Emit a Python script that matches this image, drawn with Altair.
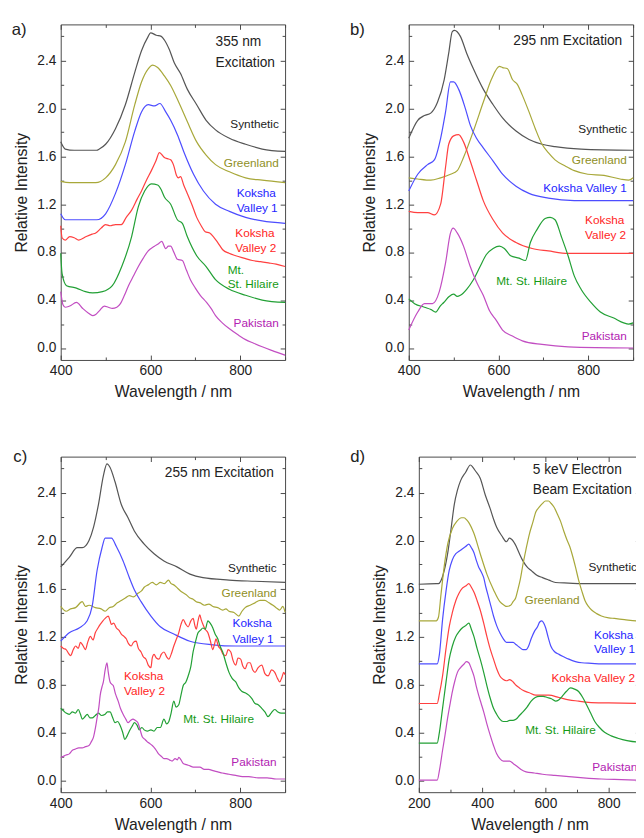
import altair as alt
import pandas as pd

FONT = "Liberation Sans"
SERIES = ["Synthetic", "Greenland", "Koksha Valley 1", "Koksha Valley 2", "Mt. St. Hilaire", "Pakistan"]
LINE_COLORS = ["#555555", "#a8a83a", "#4d4dff", "#ff4040", "#22a035", "#c24ec2"]
TEXT_COLORS = ["#222222", "#8f8f1f", "#2424ff", "#ff2424", "#159a15", "#b222b2"]

Y_MAJOR = [0.0, 0.4, 0.8, 1.2, 1.6, 2.0, 2.4]
Y_MINOR = [-0.2, 0.2, 0.6, 1.0, 1.4, 1.8, 2.2, 2.6]

# ---------------- panel a : 355 nm excitation ----------------
a_synthetic = [(400,1.72),(410,1.66),(430,1.65),(480,1.65),(486,1.66),(500,1.70),(522,1.83),(544,2.03),(565,2.30),(580,2.48),(595,2.60),(600,2.63),(613,2.61),(624,2.60),(631,2.57),(642,2.49),(653,2.38),(667,2.29),(682,2.16),(703,2.03),(724,1.90),(745,1.82),(776,1.75),(812,1.70),(849,1.66),(900,1.64)]
a_greenland = [(400,1.39),(420,1.38),(450,1.38),(478,1.38),(500,1.42),(522,1.53),(544,1.72),(565,2.03),(580,2.22),(595,2.33),(605,2.36),(616,2.34),(631,2.27),(645,2.19),(663,2.05),(682,1.89),(703,1.72),(724,1.61),(745,1.53),(776,1.47),(812,1.42),(849,1.40),(900,1.38)]
a_koksha1 = [(400,1.12),(410,1.07),(450,1.07),(480,1.07),(500,1.12),(522,1.29),(544,1.53),(565,1.81),(580,1.97),(595,2.03),(609,2.02),(621,2.04),(634,1.97),(645,1.90),(660,1.78),(674,1.64),(696,1.45),(718,1.31),(745,1.20),(776,1.14),(812,1.09),(849,1.06),(900,1.04)]
a_koksha2 = [(400,1.02),(403,0.92),(410,0.90),(420,0.93),(430,0.92),(440,0.90),(457,0.93),(470,0.95),(478,0.96),(490,1.00),(500,1.03),(510,1.02),(522,1.03),(535,1.03),(546,1.09),(558,1.15),(570,1.24),(580,1.31),(591,1.40),(602,1.48),(612,1.56),(620,1.63),(626,1.61),(631,1.59),(638,1.58),(645,1.57),(652,1.52),(658,1.44),(662,1.42),(667,1.43),(674,1.36),(682,1.29),(692,1.20),(703,1.09),(713,1.02),(722,0.97),(732,0.96),(740,0.93),(750,0.88),(761,0.82),(775,0.79),(790,0.77),(808,0.75),(827,0.73),(845,0.72),(863,0.71),(880,0.70),(900,0.68)]
a_hilaire = [(400,0.79),(403,0.62),(413,0.52),(435,0.50),(455,0.47),(471,0.46),(493,0.47),(515,0.52),(536,0.68),(558,0.93),(573,1.18),(587,1.31),(602,1.37),(616,1.36),(624,1.32),(631,1.26),(645,1.20),(660,1.07),(671,1.04),(682,0.93),(703,0.77),(724,0.68),(745,0.57),(776,0.49),(812,0.44),(849,0.40),(900,0.38)]
a_pakistan = [(400,0.47),(405,0.36),(410,0.34),(420,0.35),(435,0.38),(449,0.33),(462,0.29),(471,0.27),(478,0.28),(486,0.31),(497,0.35),(506,0.34),(515,0.33),(525,0.34),(533,0.37),(542,0.44),(551,0.52),(562,0.60),(573,0.68),(584,0.75),(595,0.81),(609,0.85),(618,0.87),(625,0.89),(634,0.83),(640,0.85),(645,0.85),(652,0.80),(660,0.74),(671,0.73),(680,0.65),(689,0.57),(700,0.50),(711,0.44),(725,0.38),(735,0.33),(745,0.27),(760,0.21),(776,0.16),(795,0.11),(812,0.07),(830,0.04),(849,0.01),(870,-0.02),(900,-0.06)]

# ---------------- panel b : 295 nm excitation ----------------
b_synthetic = [(400,1.75),(420,1.90),(435,1.94),(449,1.96),(464,2.05),(479,2.24),(489,2.46),(497,2.64),(502,2.65),(515,2.60),(529,2.46),(544,2.33),(566,2.16),(588,2.03),(609,1.92),(639,1.81),(668,1.74),(697,1.70),(726,1.68),(784,1.66),(900,1.65)]
b_greenland = [(400,1.42),(420,1.41),(449,1.40),(471,1.42),(493,1.45),(508,1.48),(522,1.59),(544,1.81),(566,2.05),(584,2.24),(602,2.35),(609,2.34),(620,2.33),(631,2.24),(642,2.20),(653,2.11),(668,1.97),(682,1.83),(697,1.70),(711,1.63),(726,1.57),(748,1.52),(769,1.48),(799,1.45),(835,1.44),(871,1.41),(890,1.40),(900,1.42)]
b_koksha1 = [(400,1.31),(420,1.45),(442,1.53),(457,1.57),(471,1.75),(482,1.97),(493,2.22),(500,2.22),(511,2.16),(526,2.00),(537,1.86),(551,1.75),(566,1.67),(588,1.56),(609,1.45),(639,1.35),(668,1.29),(711,1.25),(769,1.23),(900,1.23)]
b_koksha2 = [(400,1.14),(420,1.13),(442,1.13),(457,1.11),(471,1.20),(482,1.51),(489,1.70),(500,1.77),(511,1.78),(522,1.72),(537,1.56),(551,1.40),(566,1.23),(588,1.07),(609,0.96),(639,0.88),(675,0.83),(711,0.81),(755,0.79),(900,0.79)]
b_hilaire = [(400,0.41),(413,0.37),(435,0.34),(450,0.32),(460,0.30),(470,0.35),(478,0.38),(490,0.43),(500,0.45),(508,0.43),(515,0.44),(529,0.49),(544,0.57),(559,0.68),(573,0.78),(588,0.83),(602,0.85),(613,0.83),(627,0.77),(646,0.75),(660,0.73),(671,0.88),(686,0.99),(704,1.08),(715,1.09),(726,1.07),(740,0.93),(755,0.77),(769,0.60),(784,0.49),(806,0.38),(827,0.30),(857,0.25),(879,0.21),(890,0.20),(900,0.21)]
b_pakistan = [(400,0.15),(420,0.30),(435,0.37),(453,0.37),(468,0.47),(482,0.71),(493,0.96),(499,1.00),(508,0.96),(522,0.85),(537,0.68),(551,0.55),(566,0.44),(580,0.31),(595,0.23),(609,0.15),(631,0.10),(653,0.06),(697,0.03),(755,0.01),(900,0.0)]

# ---------------- panel c : 255 nm excitation ----------------
c_synthetic = [(400,1.78),(419,1.86),(437,1.94),(448,1.94),(463,2.00),(473,2.11),(484,2.30),(495,2.54),(503,2.64),(510,2.61),(521,2.49),(535,2.30),(550,2.19),(564,2.08),(586,1.97),(608,1.89),(630,1.83),(659,1.78),(688,1.72),(717,1.69),(775,1.67),(833,1.66),(900,1.65)]
c_greenland = [(400,1.45),(412,1.41),(422,1.43),(433,1.44),(448,1.49),(455,1.45),(463,1.46),(477,1.44),(490,1.43),(499,1.41),(508,1.44),(517,1.45),(526,1.48),(535,1.50),(544,1.52),(553,1.54),(562,1.53),(572,1.56),(580,1.58),(586,1.61),(595,1.63),(604,1.65),(613,1.63),(622,1.65),(631,1.64),(640,1.67),(646,1.64),(652,1.63),(661,1.60),(670,1.57),(679,1.55),(688,1.52),(695,1.51),(702,1.49),(711,1.48),(720,1.46),(730,1.47),(739,1.45),(750,1.44),(761,1.42),(768,1.43),(775,1.41),(786,1.40),(797,1.37),(804,1.41),(811,1.44),(822,1.46),(833,1.48),(844,1.50),(855,1.50),(864,1.48),(873,1.46),(880,1.44),(888,1.42),(895,1.45),(900,1.40)]
c_koksha1 = [(400,1.16),(419,1.23),(441,1.27),(459,1.33),(470,1.45),(481,1.75),(492,1.94),(499,2.02),(513,2.02),(524,1.95),(539,1.83),(553,1.69),(564,1.59),(579,1.49),(601,1.37),(622,1.28),(652,1.22),(688,1.16),(739,1.13),(790,1.12),(900,1.12)]
c_koksha2 = [(400,1.12),(406,1.10),(412,1.09),(417,1.06),(422,1.04),(428,1.09),(433,1.12),(439,1.10),(444,1.15),(450,1.12),(455,1.09),(460,1.15),(466,1.20),(472,1.17),(477,1.23),(483,1.27),(488,1.30),(494,1.33),(499,1.35),(506,1.37),(510,1.33),(513,1.30),(518,1.31),(524,1.27),(530,1.25),(535,1.22),(541,1.20),(546,1.18),(551,1.14),(557,1.12),(562,1.15),(568,1.16),(573,1.10),(579,1.07),(584,1.03),(590,1.01),(595,0.96),(601,0.94),(604,1.02),(608,1.05),(613,1.02),(619,1.01),(624,1.05),(630,1.07),(636,1.03),(641,1.01),(646,1.05),(652,1.12),(657,1.17),(663,1.23),(668,1.30),(673,1.34),(679,1.30),(684,1.28),(690,1.33),(695,1.35),(699,1.29),(702,1.26),(706,1.33),(710,1.38),(713,1.34),(717,1.30),(722,1.26),(728,1.23),(733,1.17),(739,1.09),(743,1.14),(746,1.18),(751,1.12),(757,1.09),(762,1.05),(768,1.04),(773,1.09),(779,1.07),(784,1.00),(790,0.96),(795,1.02),(801,1.01),(806,0.95),(811,0.93),(817,0.98),(822,0.98),(828,0.92),(833,0.90),(840,0.94),(848,0.96),(855,0.89),(862,0.87),(870,0.92),(877,0.90),(883,0.85),(888,0.82),(893,0.86),(897,0.90),(900,0.88)]
c_hilaire = [(400,0.60),(406,0.58),(412,0.56),(419,0.55),(426,0.57),(433,0.56),(439,0.59),(444,0.55),(448,0.51),(454,0.53),(459,0.55),(465,0.52),(470,0.52),(477,0.54),(484,0.56),(491,0.54),(499,0.55),(504,0.57),(510,0.57),(515,0.53),(521,0.48),(527,0.49),(532,0.46),(538,0.40),(543,0.34),(548,0.37),(553,0.41),(559,0.45),(564,0.48),(570,0.46),(575,0.42),(581,0.44),(586,0.42),(593,0.41),(601,0.42),(608,0.41),(615,0.44),(622,0.44),(630,0.51),(636,0.47),(641,0.49),(646,0.56),(652,0.66),(657,0.61),(663,0.63),(668,0.71),(673,0.79),(679,0.82),(684,0.87),(690,0.95),(695,1.07),(700,1.15),(706,1.23),(711,1.25),(717,1.27),(722,1.26),(728,1.33),(733,1.31),(739,1.27),(744,1.22),(750,1.18),(755,1.12),(761,1.07),(768,0.98),(775,0.90),(782,0.85),(790,0.82),(797,0.77),(804,0.74),(811,0.73),(819,0.71),(826,0.68),(833,0.64),(840,0.63),(848,0.60),(855,0.57),(862,0.53),(869,0.56),(877,0.59),(884,0.57),(891,0.56),(900,0.56)]
c_pakistan = [(400,0.19),(406,0.20),(412,0.21),(419,0.22),(426,0.25),(433,0.26),(440,0.27),(448,0.27),(455,0.28),(463,0.29),(468,0.32),(473,0.36),(477,0.43),(481,0.52),(485,0.61),(488,0.71),(492,0.78),(495,0.82),(499,0.92),(503,0.98),(506,0.90),(510,0.82),(514,0.80),(517,0.79),(522,0.72),(528,0.66),(533,0.60),(539,0.55),(545,0.51),(550,0.48),(556,0.50),(561,0.51),(566,0.50),(572,0.48),(577,0.42),(582,0.36),(588,0.34),(593,0.32),(597,0.31),(604,0.29),(611,0.26),(618,0.22),(624,0.20),(630,0.18),(636,0.18),(642,0.17),(648,0.16),(655,0.18),(660,0.17),(663,0.19),(668,0.17),(673,0.14),(680,0.13),(688,0.12),(695,0.11),(703,0.11),(710,0.11),(720,0.09),(730,0.09),(739,0.08),(750,0.07),(760,0.06),(775,0.05),(790,0.04),(805,0.03),(819,0.03),(840,0.02),(860,0.02),(880,0.01),(900,0.01)]

# ---------------- panel d : 5 keV electron beam ----------------
d_synthetic = [(200,1.635),(255,1.64),(262,1.64),(275,1.70),(291,1.89),(302,2.10),(312,2.30),(322,2.42),(332,2.50),(348,2.57),(363,2.63),(371,2.61),(379,2.58),(394,2.52),(410,2.38),(425,2.27),(436,2.18),(446,2.11),(462,2.04),(477,1.99),(486,2.02),(493,2.01),(508,1.95),(518,1.89),(529,1.83),(542,1.78),(555,1.75),(573,1.71),(591,1.69),(611,1.67),(632,1.65),(673,1.645),(715,1.64),(800,1.64),(900,1.64)]
d_greenland = [(200,1.33),(255,1.33),(262,1.36),(270,1.55),(280,1.78),(292,1.98),(306,2.10),(320,2.16),(335,2.19),(343,2.19),(352,2.17),(358,2.15),(374,2.06),(394,1.89),(415,1.72),(436,1.59),(456,1.49),(470,1.46),(477,1.45),(490,1.46),(498,1.49),(506,1.52),(513,1.59),(521,1.68),(529,1.80),(539,1.93),(549,2.05),(560,2.15),(570,2.24),(581,2.28),(591,2.31),(600,2.33),(610,2.33),(618,2.31),(627,2.28),(638,2.22),(648,2.16),(658,2.08),(669,2.00),(677,1.95),(684,1.89),(695,1.78),(705,1.67),(715,1.58),(725,1.50),(736,1.45),(746,1.42),(762,1.39),(777,1.37),(800,1.355),(818,1.35),(850,1.34),(887,1.33),(900,1.33)]
d_koksha1 = [(200,0.97),(258,0.97),(265,1.05),(275,1.34),(286,1.58),(296,1.75),(306,1.84),(317,1.89),(327,1.91),(337,1.93),(348,1.95),(358,1.97),(366,1.94),(374,1.90),(381,1.84),(389,1.78),(397,1.74),(405,1.69),(412,1.61),(420,1.53),(428,1.45),(436,1.37),(446,1.29),(456,1.23),(467,1.18),(477,1.15),(487,1.15),(498,1.15),(508,1.13),(518,1.11),(529,1.09),(539,1.09),(547,1.12),(555,1.18),(565,1.24),(575,1.28),(582,1.32),(589,1.33),(595,1.31),(601,1.27),(609,1.19),(617,1.12),(630,1.07),(643,1.05),(658,1.03),(674,1.01),(695,0.99),(715,0.98),(746,0.975),(777,0.97),(900,0.97)]
d_koksha2 = [(200,0.64),(258,0.64),(265,0.72),(275,0.87),(286,1.10),(296,1.28),(306,1.40),(317,1.50),(327,1.56),(337,1.60),(348,1.62),(358,1.64),(366,1.61),(374,1.57),(384,1.50),(394,1.42),(405,1.31),(415,1.20),(425,1.10),(436,1.01),(446,0.93),(456,0.87),(467,0.84),(477,0.83),(487,0.84),(498,0.82),(508,0.79),(518,0.77),(529,0.75),(549,0.73),(570,0.71),(591,0.71),(611,0.71),(643,0.69),(674,0.67),(705,0.66),(736,0.65),(800,0.645),(900,0.64)]
d_hilaire = [(200,0.31),(258,0.31),(265,0.40),(275,0.60),(286,0.82),(296,1.01),(306,1.12),(317,1.20),(327,1.24),(337,1.27),(348,1.29),(358,1.31),(366,1.26),(374,1.20),(384,1.10),(394,1.01),(405,0.90),(415,0.79),(425,0.69),(436,0.60),(446,0.55),(456,0.51),(467,0.49),(477,0.49),(487,0.50),(498,0.50),(508,0.51),(518,0.54),(529,0.57),(542,0.61),(555,0.66),(568,0.69),(580,0.70),(593,0.70),(606,0.69),(619,0.68),(632,0.66),(642,0.67),(653,0.70),(666,0.74),(679,0.77),(692,0.76),(705,0.74),(718,0.69),(730,0.63),(743,0.56),(756,0.49),(771,0.44),(787,0.40),(808,0.37),(829,0.35),(858,0.33),(887,0.32),(900,0.32)]
d_pakistan = [(200,0.0),(258,0.0),(265,0.08),(275,0.25),(283,0.38),(291,0.52),(299,0.64),(306,0.74),(314,0.83),(322,0.90),(332,0.94),(343,0.97),(350,0.99),(358,0.98),(366,0.93),(374,0.87),(381,0.79),(389,0.71),(397,0.64),(405,0.57),(415,0.47),(425,0.38),(436,0.29),(446,0.22),(456,0.18),(467,0.16),(477,0.16),(487,0.16),(498,0.14),(508,0.12),(523,0.09),(539,0.07),(565,0.06),(591,0.05),(630,0.04),(674,0.03),(720,0.02),(777,0.01),(840,0.005),(900,0.0)]

# ---------------- curve labels: (text, series, wavelength, intensity) ----------------
a_labels_right = [("Synthetic", "Synthetic", 886, 1.87), ("Greenland", "Greenland", 886, 1.54), ("Pakistan", "Pakistan", 886, 0.21)]
a_labels_left = [("Koksha", "Koksha Valley 1", 792, 1.29), ("Valley 1", "Koksha Valley 1", 792, 1.17),
                 ("Koksha", "Koksha Valley 2", 789, 0.96), ("Valley 2", "Koksha Valley 2", 789, 0.83),
                 ("Mt.", "Mt. St. Hilaire", 772, 0.65), ("St. Hilaire", "Mt. St. Hilaire", 772, 0.53)]
b_labels_right = [("Synthetic", "Synthetic", 886, 1.83), ("Greenland", "Greenland", 886, 1.57),
                  ("Koksha Valley 1", "Koksha Valley 1", 886, 1.33), ("Pakistan", "Pakistan", 886, 0.10)]
b_labels_left = [("Koksha", "Koksha Valley 2", 793, 1.07), ("Valley 2", "Koksha Valley 2", 793, 0.94),
                 ("Mt. St. Hilaire", "Mt. St. Hilaire", 595, 0.56)]
c_labels_right = [("Synthetic", "Synthetic", 881, 1.77), ("Greenland", "Greenland", 881, 1.56), ("Pakistan", "Pakistan", 881, 0.15)]
c_labels_left = [("Koksha", "Koksha Valley 1", 783, 1.31), ("Valley 1", "Koksha Valley 1", 783, 1.18),
                 ("Koksha", "Koksha Valley 2", 541, 0.87), ("Valley 2", "Koksha Valley 2", 541, 0.74),
                 ("Mt. St. Hilaire", "Mt. St. Hilaire", 673, 0.51)]
d_labels_right = []
d_labels_left = [("Synthetic", "Synthetic", 736, 1.78), ("Greenland", "Greenland", 534, 1.50),
                 ("Koksha", "Koksha Valley 1", 754, 1.21), ("Valley 1", "Koksha Valley 1", 754, 1.09),
                 ("Koksha Valley 2", "Koksha Valley 2", 619, 0.85), ("Mt. St. Hilaire", "Mt. St. Hilaire", 536, 0.42),
                 ("Pakistan", "Pakistan", 748, 0.11)]

# excitation notes: (text, wavelength, intensity)
a_notes = [("355 nm", 745, 2.55), ("Excitation", 745, 2.38)]
b_notes = [("295 nm Excitation", 633, 2.56)]
c_notes = [("255 nm Excitation", 632, 2.56)]
d_notes = [("5 keV Electron", 560, 2.59), ("Beam Excitation", 560, 2.42)]

X_MAJOR_400 = [400, 600, 800]
X_MINOR_400 = [500, 700, 900]
X_MAJOR_200 = [200, 400, 600, 800]
X_MINOR_200 = [300, 500, 700, 900]

TICK = "#444444"
INK = "#222222"
MAJ, MIN_ = 5.1, 3.1
PANEL_H = 350


def lines_frame(curves):
    rows = []
    for name, lc, pts in zip(SERIES, LINE_COLORS, curves):
        for i, (w, v) in enumerate(pts):
            rows.append({"series": name, "lc": lc, "wl": w, "v": v, "i": i})
    return pd.DataFrame(rows)


def label_frame(items):
    cmap = dict(zip(SERIES, TEXT_COLORS))
    return pd.DataFrame([{"t": t, "tc": cmap[s], "wl": w, "v": v} for t, s, w, v in items],
                        columns=["t", "tc", "wl", "v"])


def panel(curves, labels_left, labels_right, notes, xdom, xmaj, xmin, width, letter, ldx, ldy, xtitle_y):
    xs = alt.Scale(domain=xdom, nice=False, zero=False)
    ys = alt.Scale(domain=[-0.1, 2.7], nice=False, zero=False)
    df = lines_frame(curves)

    def tick_axis(orient, values, size, labels=False, **kw):
        return alt.Axis(orient=orient, values=values, offset=-size, tickSize=size, domain=False,
                        grid=False, labels=labels, tickColor=TICK, tickWidth=1, labelFlush=False, **kw)

    main = alt.Chart(df).mark_line(strokeWidth=1.25, interpolate="monotone").encode(
        x=alt.X("wl:Q", scale=xs, axis=tick_axis("bottom", xmaj, MAJ, labels=True, title="Wavelength / nm",
                                                   labelPadding=4.5, titleY=xtitle_y, titleBaseline="alphabetic",
                                                   format="d")),
        y=alt.Y("v:Q", scale=ys, axis=tick_axis("left", Y_MAJOR, MAJ, labels=True, title="Relative Intensity",
                                                 labelPadding=5.1, titlePadding=8.2, format=".1f")),
        color=alt.Color("lc:N", scale=None),
        detail="series:N",
        order="i:Q",
    )
    minor_lb = alt.Chart(df).mark_point(opacity=0, size=0).encode(
        x=alt.X("wl:Q", scale=xs, axis=tick_axis("bottom", xmin, MIN_, title=None)),
        y=alt.Y("v:Q", scale=ys, axis=tick_axis("left", Y_MINOR, MIN_, title=None)),
    )
    major_tr = alt.Chart(df).mark_point(opacity=0, size=0).encode(
        x=alt.X("wl:Q", scale=xs, axis=tick_axis("top", xmaj, MAJ, title=None)),
        y=alt.Y("v:Q", scale=ys, axis=tick_axis("right", Y_MAJOR, MAJ, title=None)),
    )
    minor_tr = alt.Chart(df).mark_point(opacity=0, size=0).encode(
        x=alt.X("wl:Q", scale=xs, axis=tick_axis("top", xmin, MIN_, title=None)),
        y=alt.Y("v:Q", scale=ys, axis=tick_axis("right", Y_MINOR, MIN_, title=None)),
    )
    layers = [main, minor_lb, major_tr, minor_tr]
    for items, align in ((labels_left, "left"), (labels_right, "right")):
        if items:
            layers.append(alt.Chart(label_frame(items)).mark_text(
                align=align, baseline="middle", font=FONT, fontSize=12.3).encode(
                x=alt.X("wl:Q", scale=xs, axis=None), y=alt.Y("v:Q", scale=ys, axis=None),
                text="t:N", color=alt.Color("tc:N", scale=None)))
    nd = pd.DataFrame(notes, columns=["t", "wl", "v"])
    layers.append(alt.Chart(nd).mark_text(align="left", baseline="middle", font=FONT, fontSize=14.3,
                                          color=INK).encode(
        x=alt.X("wl:Q", scale=xs, axis=None), y=alt.Y("v:Q", scale=ys, axis=None), text="t:N"))
    # panel letter, placed relative to the plot's top-left corner
    layers.append(alt.Chart(pd.DataFrame({"t": [letter]})).mark_text(
        align="left", baseline="alphabetic", font=FONT, fontSize=17.4, color=INK).encode(
        x=alt.value(ldx), y=alt.value(ldy), text="t:N"))
    return alt.layer(*layers).resolve_axis(x="independent", y="independent").properties(
        width=width, height=PANEL_H)


pa = panel([a_synthetic, a_greenland, a_koksha1, a_koksha2, a_hilaire, a_pakistan], a_labels_left, a_labels_right,
           a_notes, [400, 900], X_MAJOR_400, X_MINOR_400, 234, "a)", -51.1, 10.9, 43.3)
pb = panel([b_synthetic, b_greenland, b_koksha1, b_koksha2, b_hilaire, b_pakistan], b_labels_left, b_labels_right,
           b_notes, [400, 900], X_MAJOR_400, X_MINOR_400, 234, "b)", -61.4, 10.9, 43.3)
pc = panel([c_synthetic, c_greenland, c_koksha1, c_koksha2, c_hilaire, c_pakistan], c_labels_left, c_labels_right,
           c_notes, [400, 900], X_MAJOR_400, X_MINOR_400, 234, "c)", -49.4, 5.8, 44.2)
pd_ = panel([d_synthetic, d_greenland, d_koksha1, d_koksha2, d_hilaire, d_pakistan], d_labels_left, d_labels_right,
            d_notes, [200, 900], X_MAJOR_200, X_MINOR_200, 231, "d)", -71.6, 5.8, 44.2)

row1 = alt.hconcat(pa, pb, spacing=129, bounds="flush")
row2 = alt.hconcat(pc, pd_, spacing=139.5, bounds="flush")
chart = alt.vconcat(row1, row2, spacing=48.8).properties(
    padding={"left": 3, "top": -5, "right": -8, "bottom": 0},
    background="white",
).configure_view(stroke="#444444", strokeWidth=1).configure_axis(
    labelFont=FONT, labelFontSize=14.3, labelColor=INK, titleFont=FONT, titleFontSize=16.4,
    titleFontWeight="normal", titleColor=INK, grid=False
)

chart.save("out.html", embed_options={"renderer": "svg", "actions": False})
